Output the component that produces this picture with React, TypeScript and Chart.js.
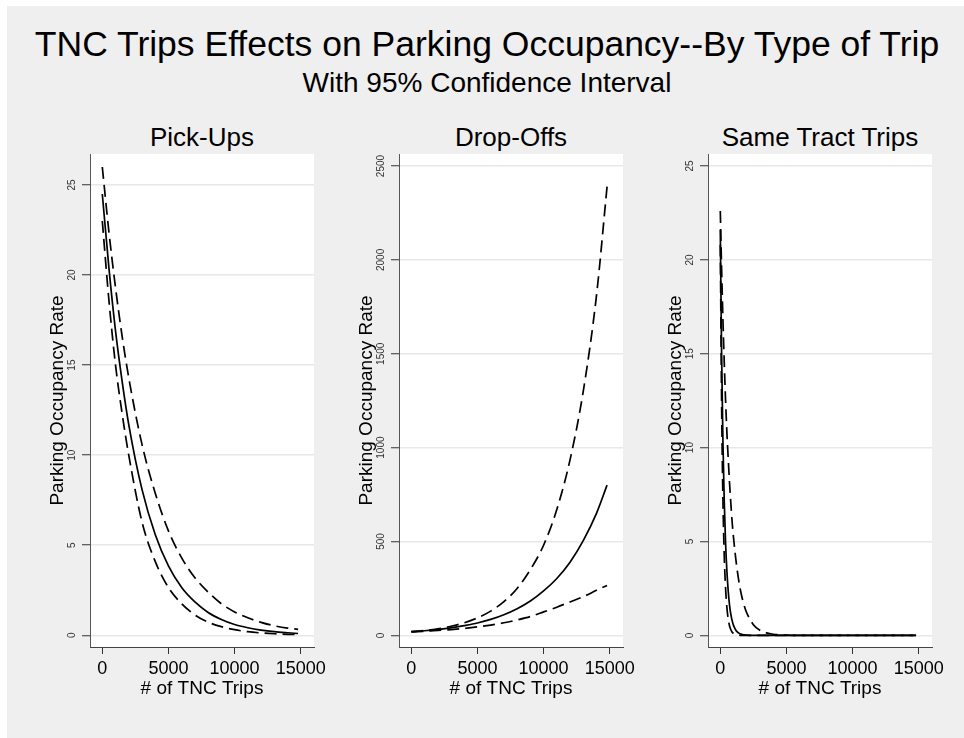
import React, { useEffect, useRef } from "react";
import { Chart, registerables } from "chart.js";

Chart.register(...registerables);

// ---------- text ----------
const mainTitle = "TNC Trips Effects on Parking Occupancy--By Type of Trip";
const subTitle = "With 95% Confidence Interval";
const panelTitles = ["Pick-Ups", "Drop-Offs", "Same Tract Trips"];
const xAxisTitle = "# of TNC Trips";
const yAxisTitle = "Parking Occupancy Rate";

// ---------- tick labels ----------
const xTicks = [0, 5000, 10000, 15000];
const rateTicksSmall = [0, 5, 10, 15, 20, 25];
const rateTicksLarge = [0, 500, 1000, 1500, 2000, 2500];

// ---------- data ----------
const tripsAB = [0, 500, 1000, 1500, 2000, 3000, 4000, 5000, 6000, 7000, 8000, 9000, 10000, 11000, 12000, 13000, 14000, 14800];

const pickFit = [24.5, 20.4, 16.9, 14.1, 11.7, 8.1, 5.6, 3.85, 2.65, 1.85, 1.27, 0.88, 0.6, 0.42, 0.29, 0.2, 0.14, 0.1];
const pickUpper = [26, 22.4, 19.3, 16.6, 14.3, 10.6, 7.9, 5.8, 4.3, 3.2, 2.4, 1.75, 1.3, 0.97, 0.72, 0.53, 0.4, 0.33];
const pickLower = [23, 18.6, 15, 12.3, 10, 6.3, 4.1, 2.65, 1.75, 1.13, 0.73, 0.48, 0.31, 0.2, 0.13, 0.085, 0.055, 0.04];

const dropFit = [19.5, 21.8, 24.5, 27.5, 31, 40, 52, 66, 85, 110, 142, 183, 237, 303, 390, 505, 650, 800];
const dropUpper = [20.5, 23, 26, 30, 35, 48.5, 67, 93, 129, 180, 250, 350, 480, 670, 935, 1300, 1810, 2390];
const dropLower = [18.5, 20, 22, 24, 26, 31, 37, 45, 55, 67, 82, 100, 125, 150, 178, 206, 240, 266];

const tripsC = [0, 100, 200, 300, 400, 500, 600, 700, 800, 900, 1000, 1200, 1400, 1600, 1800, 2000, 2500, 3000, 3500, 4000, 5000, 6000, 8000, 10000, 12000, 14000, 14800];
const sameFit = [21.6, 14.9, 10.3, 7.1, 4.9, 3.4, 2.35, 1.6, 1.1, 0.77, 0.53, 0.25, 0.12, 0.06, 0.03, 0.01, 0, 0, 0, 0, 0, 0, 0, 0, 0, 0, 0];
const sameUpper = [22.6, 19.5, 16.8, 14.5, 12.5, 10.8, 9.4, 8.1, 7.0, 6.0, 5.2, 3.9, 2.9, 2.15, 1.6, 1.2, 0.57, 0.27, 0.13, 0.06, 0.015, 0, 0, 0, 0, 0, 0];
const sameLower = [20.8, 12.3, 7.2, 4.2, 2.5, 1.47, 0.86, 0.5, 0.3, 0.17, 0.1, 0.035, 0.012, 0, 0, 0, 0, 0, 0, 0, 0, 0, 0, 0, 0, 0, 0];

const FONT = '"Liberation Sans", Arial, Helvetica, sans-serif';

type PanelDef = {
  xs: number[];
  fit: number[];
  upper: number[];
  lower: number[];
  yTicks: number[];
  yMin: number;
  yMax: number;
};

const panels: PanelDef[] = [
  { xs: tripsAB, fit: pickFit, upper: pickUpper, lower: pickLower, yTicks: rateTicksSmall, yMin: -0.65, yMax: 26.72 },
  { xs: tripsAB, fit: dropFit, upper: dropUpper, lower: dropLower, yTicks: rateTicksLarge, yMin: -62, yMax: 2564 },
  { xs: tripsC, fit: sameFit, upper: sameUpper, lower: sameLower, yTicks: rateTicksSmall, yMin: -0.62, yMax: 25.64 },
];

const PANEL_STEP = 309;
const CANVAS_LEFT0 = 40;
const CANVAS_TOP = 150;
const CANVAS_W = 294;
const CANVAS_H = 560;

function pts(xs: number[], ys: number[]) {
  return xs.map((x, i) => ({ x, y: ys[i] }));
}

const decor = {
  id: "decor",
  beforeDraw(chart: any) {
    const { ctx, chartArea: a } = chart;
    ctx.save();
    ctx.fillStyle = "#ffffff";
    ctx.fillRect(a.left, a.top, a.right - a.left, a.bottom - a.top);
    ctx.restore();
  },
  afterDraw(chart: any) {
    const { ctx } = chart;
    const ys = chart.scales.y;
    ctx.save();
    ctx.font = `10px ${FONT}`;
    ctx.fillStyle = "#333";
    ctx.textAlign = "center";
    ctx.textBaseline = "middle";
    ys.ticks.forEach((t: any) => {
      const py = ys.getPixelForValue(t.value);
      ctx.save();
      ctx.translate(ys.right - 17.5, py);
      ctx.rotate(-Math.PI / 2);
      ctx.fillText(String(t.value), 0, 0);
      ctx.restore();
    });
    ctx.restore();
  },
};

function makeChart(canvas: HTMLCanvasElement, p: PanelDef) {
  const lineBase = {
    borderColor: "#000",
    borderWidth: 1.7,
    pointRadius: 0,
    fill: false,
    cubicInterpolationMode: "monotone" as const,
  };
  return new Chart(canvas, {
    type: "line",
    data: {
      datasets: [
        { ...lineBase, data: pts(p.xs, p.fit) },
        { ...lineBase, data: pts(p.xs, p.upper), borderDash: [12, 6] },
        { ...lineBase, data: pts(p.xs, p.lower), borderDash: [12, 6] },
      ],
    },
    options: {
      responsive: false,
      animation: false,
      events: [],
      layout: { padding: { left: 8, right: 20, top: 4, bottom: 12 } },
      plugins: {
        legend: { display: false },
        tooltip: { enabled: false },
        title: { display: false },
      },
      scales: {
        x: {
          type: "linear",
          min: -930,
          max: 16005,
          afterBuildTicks: (s: any) => {
            s.ticks = xTicks.map((v) => ({ value: v }));
          },
          afterFit: (s: any) => {
            s.height = 51;
          },
          grid: {
            drawOnChartArea: false,
            drawTicks: true,
            tickLength: 7,
            tickColor: "#333",
            tickWidth: 1,
          },
          border: { display: true, color: "#444", width: 1 },
          ticks: {
            font: { size: 18, family: FONT, lineHeight: 1 },
            color: "#000",
            padding: 6,
            maxRotation: 0,
            minRotation: 0,
            autoSkip: false,
            callback: (v: any) => String(v),
          },
          title: {
            display: true,
            text: xAxisTitle,
            font: { size: 19, family: FONT, lineHeight: 1 },
            color: "#000",
            padding: 0,
          },
        },
        y: {
          type: "linear",
          min: p.yMin,
          max: p.yMax,
          afterBuildTicks: (s: any) => {
            s.ticks = p.yTicks.map((v) => ({ value: v }));
          },
          afterFit: (s: any) => {
            s.width = 42;
          },
          grid: {
            color: "#E8E8E8",
            lineWidth: 1.5,
            drawTicks: true,
            tickLength: 8,
            tickColor: "#333",
            tickWidth: 1,
          },
          border: { display: true, color: "#555", width: 1 },
          ticks: { display: false },
          title: {
            display: true,
            text: yAxisTitle,
            font: { size: 19, family: FONT, lineHeight: 1 },
            color: "#000",
            padding: 0,
          },
        },
      },
    },
    plugins: [decor],
  } as any);
}

export default function App() {
  const refs = [useRef<HTMLCanvasElement>(null), useRef<HTMLCanvasElement>(null), useRef<HTMLCanvasElement>(null)];

  useEffect(() => {
    const charts = panels.map((p, i) => makeChart(refs[i].current as HTMLCanvasElement, p));
    return () => charts.forEach((c) => c.destroy());
  }, []);

  return (
    <div
      style={{
        position: "fixed",
        left: 0,
        top: 0,
        width: 964,
        height: 738,
        background: "#ffffff",
        fontFamily: FONT,
        color: "#000",
        overflow: "hidden",
      }}
    >
      <div style={{ position: "absolute", left: 7, top: 6, right: 0, bottom: 0, background: "#EFEFEF" }} />
      <div
        style={{
          position: "absolute",
          left: 0,
          width: 974,
          top: 27,
          textAlign: "center",
          fontSize: 35.5,
          lineHeight: "35px",
          whiteSpace: "nowrap",
        }}
      >
        {mainTitle}
      </div>
      <div
        style={{
          position: "absolute",
          left: 0,
          width: 974,
          top: 69,
          textAlign: "center",
          fontSize: 28,
          lineHeight: "28px",
          whiteSpace: "nowrap",
        }}
      >
        {subTitle}
      </div>
      {panelTitles.map((t, i) => (
        <div
          key={t}
          style={{
            position: "absolute",
            left: 90 + PANEL_STEP * i - 50,
            width: 324,
            top: 124,
            textAlign: "center",
            fontSize: 26,
            lineHeight: "26px",
            whiteSpace: "nowrap",
          }}
        >
          {t}
        </div>
      ))}
      {panels.map((_, i) => (
        <canvas
          key={i}
          ref={refs[i]}
          width={CANVAS_W}
          height={CANVAS_H}
          style={{
            position: "absolute",
            left: CANVAS_LEFT0 + PANEL_STEP * i,
            top: CANVAS_TOP,
            width: CANVAS_W,
            height: CANVAS_H,
          }}
        />
      ))}
    </div>
  );
}
